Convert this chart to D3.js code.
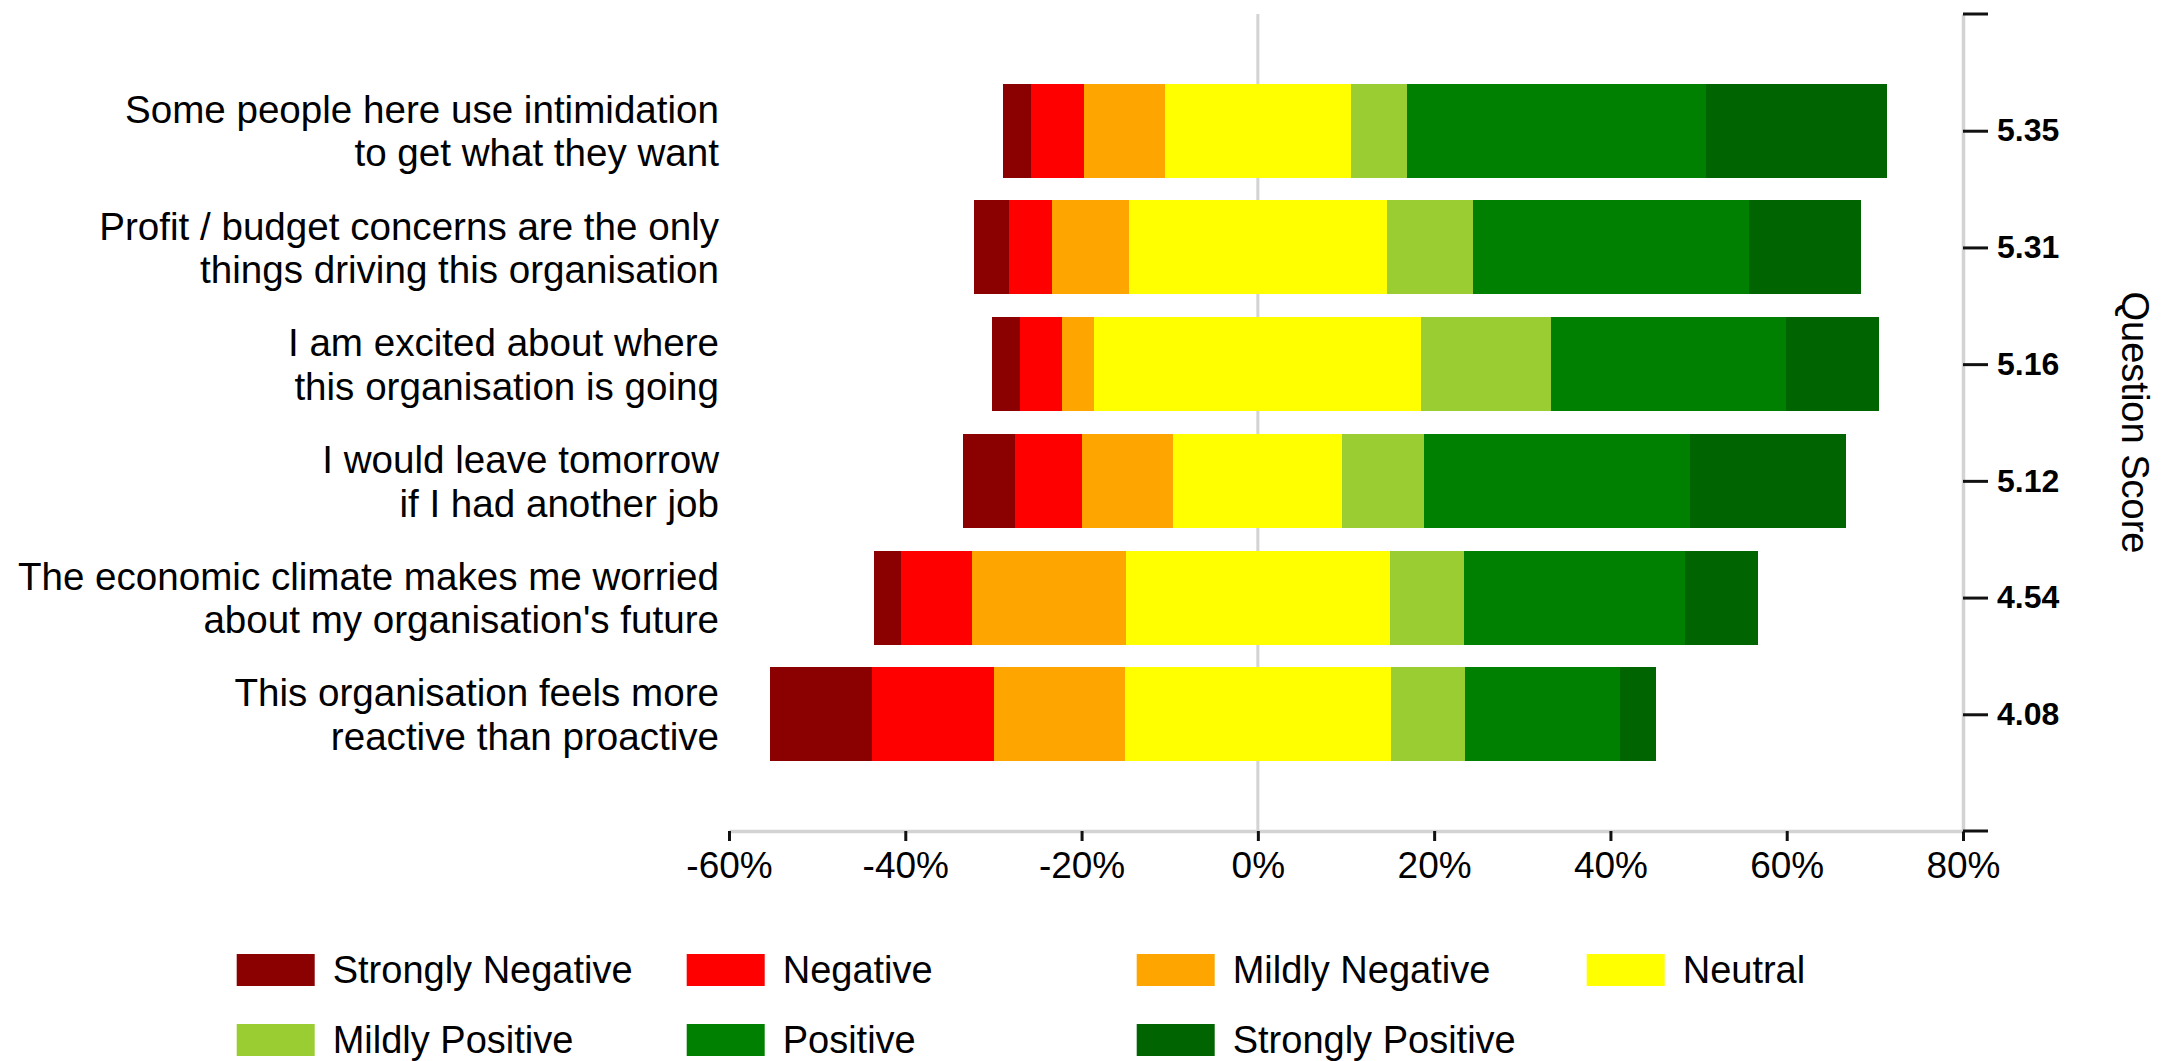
<!DOCTYPE html>
<html>
<head>
<meta charset="utf-8">
<title>Question responses</title>
<script src="https://cdn.jsdelivr.net/npm/d3@7"></script>
<style>
  html, body { margin: 0; padding: 0; background: #ffffff; }
  svg { display: block; font-family: "Liberation Sans", Arial, sans-serif; }
</style>
</head>
<body>
<svg id="chart" width="2163" height="1061"></svg>
<script>
// Survey statements (two lines each), top to bottom
const categories = [
  ["Some people here use intimidation", "to get what they want"],
  ["Profit / budget concerns are the only", "things driving this organisation"],
  ["I am excited about where", "this organisation is going"],
  ["I would leave tomorrow", "if I had another job"],
  ["The economic climate makes me worried", "about my organisation's future"],
  ["This organisation feels more", "reactive than proactive"]
];

// Average question score per statement
const scores = ["5.35", "5.31", "5.16", "5.12", "4.54", "4.08"];

// Response shares (%) per statement
const strongNegative = [3.2, 4.0, 3.2, 6.0, 3.1, 11.6];
const negative       = [6.0, 4.8, 4.7, 7.5, 8.1, 13.9];
const mildNegative   = [9.2, 8.8, 3.7, 10.4, 17.4, 14.8];
const neutral        = [21.1, 29.2, 37.1, 19.2, 30.0, 30.2];
const mildPositive   = [6.4, 9.8, 14.7, 9.2, 8.4, 8.4];
const positive       = [33.9, 31.3, 26.7, 30.2, 25.1, 17.6];
const strongPositive = [20.5, 12.7, 10.5, 17.7, 8.2, 4.1];

const seriesNames = ["Strongly Negative", "Negative", "Mildly Negative", "Neutral",
                     "Mildly Positive", "Positive", "Strongly Positive"];
const seriesValues = [strongNegative, negative, mildNegative, neutral,
                      mildPositive, positive, strongPositive];
const seriesColors = ["#8b0000", "#ff0000", "#ffa500", "#ffff00",
                      "#9acd32", "#008000", "#006400"];

const xTicks = [-60, -40, -20, 0, 20, 40, 60, 80];

const svg = d3.select("#chart");

const x = d3.scaleLinear().domain([-60, 80]).range([729, 1963]);
const y = d3.scalePoint().domain(d3.range(categories.length)).range([14, 831]).padding(1);
const barH = 94;

// Diverging layout: neutral block centred on zero
const segments = [];
categories.forEach((c, i) => {
  let start = -(strongNegative[i] + negative[i] + mildNegative[i] + neutral[i] / 2);
  seriesValues.forEach((vals, s) => {
    segments.push({ row: i, s, x0: start, x1: start + vals[i] });
    start += vals[i];
  });
});

// zero reference line
svg.append("line")
  .attr("x1", x(0)).attr("x2", x(0))
  .attr("y1", y.range()[0]).attr("y2", y.range()[1])
  .attr("stroke", "#d3d3d3").attr("stroke-width", 3);

// stacked bars
svg.append("g").selectAll("rect")
  .data(segments)
  .join("rect")
  .attr("x", d => x(d.x0))
  .attr("width", d => x(d.x1) - x(d.x0))
  .attr("y", d => y(d.row) - barH / 2)
  .attr("height", barH)
  .attr("fill", d => seriesColors[d.s])
  .attr("shape-rendering", "crispEdges");

// bottom percentage axis
const xAxis = svg.append("g")
  .attr("transform", `translate(0,${y.range()[1]})`)
  .call(d3.axisBottom(x).tickValues(xTicks).tickFormat(d => d + "%")
    .tickSize(10).tickSizeOuter(0).tickPadding(11));
xAxis.select(".domain").attr("stroke", "#d3d3d3").attr("stroke-width", 3.5);
xAxis.selectAll(".tick line").attr("stroke", "#111").attr("stroke-width", 3);
xAxis.selectAll(".tick text").attr("font-size", 37).attr("fill", "#000")
  .attr("font-family", "Liberation Sans, Arial, sans-serif");

// right score axis
const yAxis = svg.append("g")
  .attr("transform", `translate(${x.range()[1]},0)`)
  .call(d3.axisRight(y).tickFormat(i => scores[i])
    .tickSize(25).tickSizeOuter(0).tickPadding(9));
yAxis.select(".domain").attr("stroke", "#d3d3d3").attr("stroke-width", 3.5);
yAxis.selectAll(".tick line").attr("stroke", "#111").attr("stroke-width", 3);
yAxis.selectAll(".tick text").attr("font-size", 32).attr("font-weight", "bold")
  .attr("fill", "#000").attr("font-family", "Liberation Sans, Arial, sans-serif");
// end caps of the score axis
yAxis.selectAll("line.cap")
  .data(y.range())
  .join("line")
  .attr("class", "cap")
  .attr("x1", 0).attr("x2", 25)
  .attr("y1", d => d).attr("y2", d => d)
  .attr("stroke", "#111").attr("stroke-width", 3);

// axis title
svg.append("text")
  .attr("transform", `translate(2122,${(y.range()[0] + y.range()[1]) / 2}) rotate(90)`)
  .attr("text-anchor", "middle")
  .attr("font-size", 38)
  .attr("fill", "#000")
  .text("Question Score");

// statement labels
const labelSize = 38.6;
const lineH = 43.5;
const labels = svg.append("g").selectAll("text")
  .data(categories)
  .join("text")
  .attr("x", 719)
  .attr("y", (d, i) => y(i))
  .attr("text-anchor", "end")
  .attr("font-size", labelSize)
  .attr("fill", "#000");
labels.selectAll("tspan")
  .data(d => d)
  .join("tspan")
  .attr("x", 719)
  .attr("dy", (d, j, nodes) => j === 0 ? (0.36 * labelSize - lineH * (nodes.length - 1) / 2) : lineH)
  .text(d => d);

// legend
const legend = svg.append("g").selectAll("g")
  .data(seriesNames)
  .join("g")
  .attr("transform", (d, i) => `translate(${236.7 + (i % 4) * 450},${954 + Math.floor(i / 4) * 70})`);
legend.append("rect")
  .attr("width", 78).attr("height", 32)
  .attr("fill", (d, i) => seriesColors[i]);
legend.append("text")
  .attr("x", 96).attr("y", 16).attr("dy", "0.35em")
  .attr("font-size", 38).attr("fill", "#000")
  .text(d => d);
</script>
</body>
</html>
